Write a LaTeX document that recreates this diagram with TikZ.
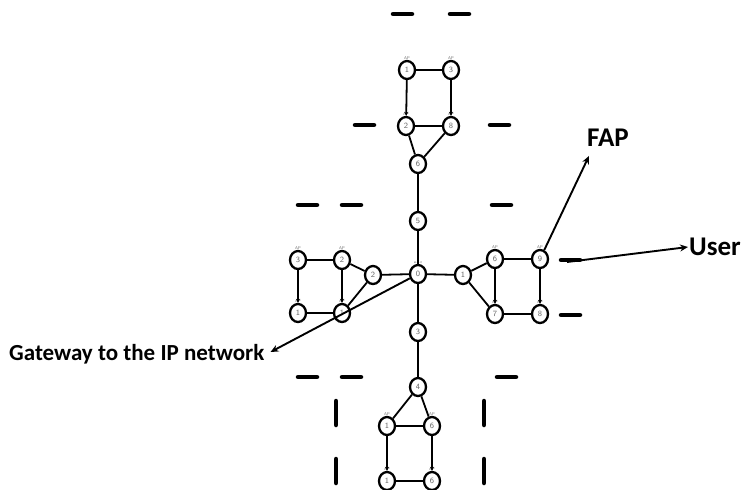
\documentclass[tikz,border=0pt]{standalone}
\usepackage{fontspec}
\newfontfamily\lblfont{Carlito}
\usepackage{tikz}
\usetikzlibrary{positioning,arrows.meta,calc,shapes.geometric}
\tikzset{>=Stealth,
fn/.style={ellipse,draw,line width=2.3pt,minimum width=16pt,minimum height=18pt,inner sep=0pt,font=\fontsize{8}{8}\selectfont\sffamily\color{black!60}},
ap/.style={label={[font=\fontsize{4}{4}\selectfont\sffamily,text=black!60,inner sep=0.5pt]above:AP}},
ln/.style={line width=1.8pt},
dn/.style={line width=1.8pt,-{Stealth[length=4pt,width=4pt]}},
bar/.style={line width=4.5pt,line cap=round},
lbl/.style={font=\lblfont\bfseries\fontsize{23}{26}\selectfont,inner sep=1pt},
big/.style={lbl,font=\lblfont\bfseries\fontsize{27}{30}\selectfont},
pt/.style={line width=1.9pt,-{Stealth[length=8pt,width=7pt]}},
}
\begin{document}
\begin{tikzpicture}[x=1pt,y=-1pt]
\useasboundingbox (0,0) rectangle (745,490);

% centre and the gateway
\node[fn,label={[font=\fontsize{4}{4}\selectfont\sffamily,text=black!60,inner sep=0.5pt]above:a.b.c}] (c0) at (418,274) {0};

% upper branch
\node[fn] (u5) at (418,221) {5};
\node[fn] (u6) at (418,164) {6};
\node[fn,ap] (ul) at (407,70) {1};
\node[fn,ap] (ur) at (451,70) {3};
\node[fn,ap] (ll) at (406,126) {2};
\node[fn,ap] (lr) at (451,126) {8};

% left branch
\node[fn] (l2) at (373,275) {2};
\node[fn,ap] (lul) at (298,260) {3};
\node[fn,ap] (lur) at (342,260) {2};
\node[fn,ap] (lll) at (298,313) {1};
\node[fn,ap] (llr) at (342,313) {1};

% right branch
\node[fn] (r1) at (463,275) {1};
\node[fn,ap] (rul) at (495,259) {6};
\node[fn,ap] (rur) at (540,259) {9};
\node[fn,ap] (rll) at (495,314) {7};
\node[fn,ap] (rlr) at (540,314) {8};

% lower branch
\node[fn] (d3) at (418,332) {3};
\node[fn] (d4) at (418,387) {4};
\node[fn,ap] (dul) at (387,426) {1};
\node[fn,ap] (dur) at (432,426) {6};
\node[fn,ap] (dll) at (387,481) {1};
\node[fn,ap] (dlr) at (432,481) {6};

\path
(c0) edge[ln] (u5)
(u5) edge[ln] (u6)
(u6) edge[ln] (ll)
(u6) edge[ln] (lr)
(ul) edge[ln] (ur)
(ll) edge[ln] (lr)
(ul) edge[dn] (ll)
(ur) edge[dn] (lr)
(c0) edge[ln] (l2)
(l2) edge[ln] (lur)
(l2) edge[ln] (llr)
(lul) edge[ln] (lur)
(lll) edge[ln] (llr)
(lul) edge[dn] (lll)
(lur) edge[dn] (llr)
(c0) edge[ln] (r1)
(r1) edge[ln] (rul)
(r1) edge[ln] (rll)
(rul) edge[ln] (rur)
(rll) edge[ln] (rlr)
(rul) edge[dn] (rll)
(rur) edge[dn] (rlr)
(c0) edge[ln] (d3)
(d3) edge[ln] (d4)
(d4) edge[ln] (dul)
(d4) edge[ln] (dur)
(dul) edge[ln] (dur)
(dll) edge[ln] (dlr)
(dul) edge[dn] (dll)
(dur) edge[dn] (dlr)
;

% users (short bars)
\foreach \x/\y in {393/14,450/14,355/125,490/125,298/205,342/205,492/205,
  298/377,342/377,497/377,561/260,561/315}
  \draw[bar] (\x,\y) -- ++(19,0);
\foreach \x/\y in {336/401,336/459,484/401,484/459}
  \draw[bar] (\x,\y) -- ++(0,24);

% labels
\node[lbl,anchor=west] (gw) at (8,354) {Gateway to the IP network};
\node[big,anchor=west] (fap) at (586,138) {FAP};
\node[big,anchor=west] (usr) at (688,247) {User};
\coordinate (ud) at (567,262);

\draw[pt] (c0) -- ($(gw.east)+(5,-2)$);
\draw[pt] (rur) -- ($(fap.south west)+(3,8)$);
\draw[pt] (ud) -- (usr.west);
\end{tikzpicture}
\end{document}
